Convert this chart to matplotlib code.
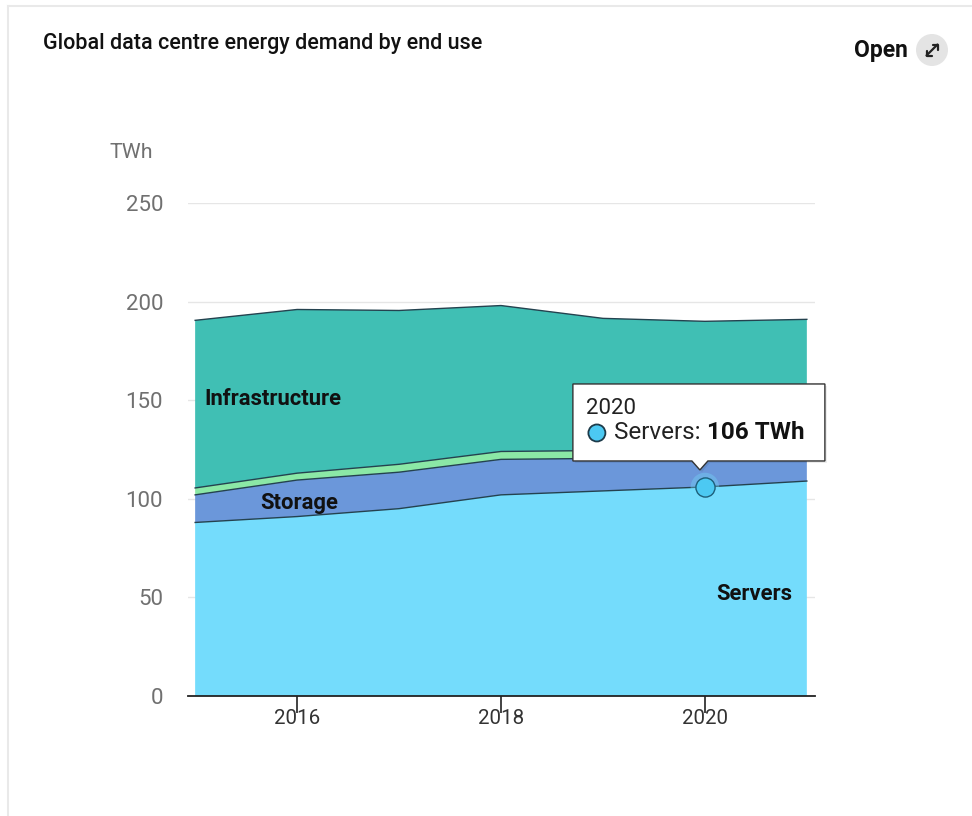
import matplotlib
matplotlib.use("Agg")
import matplotlib.pyplot as plt
from matplotlib.patches import Polygon, Ellipse
from matplotlib.lines import Line2D

# Global data centre energy demand by end use (TWh)
years = [2015, 2016, 2017, 2018, 2019, 2020, 2021]
servers = [88, 91, 95, 102, 104, 106, 109]
storage = [14, 18.5, 18.5, 18, 16.5, 15, 13]
network = [3.5, 3.5, 4, 4, 4, 4, 4]
infrastructure = [85, 83, 78, 74, 67, 65, 65]

series_names = ["Servers", "Storage", "Network", "Infrastructure"]
series_colors = ["#74dcfc", "#6b97da", "#8be8a6", "#40bfb4"]
yticks = [0, 50, 100, 150, 200, 250]
xticks = [2016, 2018, 2020]

tooltip_year = 2020
tooltip_series = "Servers"

W, H = 972, 816
plt.rcParams["font.family"] = ["Roboto", "DejaVu Sans"]
fig = plt.figure(figsize=(W / 100, H / 100), dpi=100)


def fx(px):
    return px / W


def fy(py):
    return 1 - py / H


def disc(cx, cy, r, **kw):
    """Round disc in figure coordinates, given in pixels."""
    return Ellipse((fx(cx), fy(cy)), 2 * r / W, 2 * r / H,
                   transform=fig.transFigure, **kw)


def seg(pts, **kw):
    xs = [fx(p[0]) for p in pts]
    ys = [fy(p[1]) for p in pts]
    fig.add_artist(Line2D(xs, ys, transform=fig.transFigure, **kw))


# card frame
seg([(8, 6), (W, 6)], color="#e9e9e9", lw=1.5)
seg([(8, 6), (8, H)], color="#e9e9e9", lw=1.5)

fig.text(fx(43), fy(43), "Global data centre energy demand by end use",
         fontsize=15.5, fontweight="medium", color="#111111", va="center", ha="left")

# "Open" button with expand icon
fig.text(fx(908), fy(50), "Open", fontsize=16.5, fontweight="bold", color="#111111",
         va="center", ha="right")
fig.add_artist(disc(932, 50, 16, facecolor="#e4e4e4", edgecolor="none", zorder=1))
icon = dict(color="#222222", lw=1.6, solid_capstyle="round", zorder=2)
seg([(926.5, 55.5), (937.5, 44.5)], **icon)
seg([(932.5, 44.5), (937.5, 44.5), (937.5, 49.5)], **icon)
seg([(926.5, 50.5), (926.5, 55.5), (931.5, 55.5)], **icon)

# plot area
left, right = 188, 815
top, bottom = 203, 696
ax = fig.add_axes([fx(left), fy(bottom), (right - left) / W, (bottom - top) / H])
ax.set_xlim(2014.93, 2021.08)
ax.set_ylim(0, 250)

ax.stackplot(years, servers, storage, network, infrastructure,
             colors=series_colors, labels=series_names, zorder=2)

# thin outlines on top of each layer
cum = [0] * len(years)
for vals in (servers, storage, network, infrastructure):
    cum = [c + v for c, v in zip(cum, vals)]
    ax.plot(years, cum, color="#24424f", lw=1.0, zorder=3)

for y in yticks[1:]:
    ax.axhline(y, color="#e6e6e6", lw=1.0, zorder=1)

for s in ("top", "right", "left"):
    ax.spines[s].set_visible(False)
ax.spines["bottom"].set_color("#222222")
ax.spines["bottom"].set_linewidth(1.3)
ax.spines["bottom"].set_zorder(4)

ax.set_yticks(yticks)
ax.set_yticklabels([str(v) for v in yticks])
ax.tick_params(axis="y", length=0, pad=18, labelsize=16, labelcolor="#707070")
ax.set_xticks(xticks)
ax.set_xticklabels([str(v) for v in xticks])
ax.tick_params(axis="x", length=12, width=1.2, color="#222222", direction="out",
               pad=-3, labelsize=14.8, labelcolor="#333333")
for lab in ax.get_xticklabels():
    lab.set_zorder(5)

fig.text(fx(131), fy(152), "TWh", fontsize=15.4, color="#707070", ha="center", va="center")

# area labels
ax.text(2015.09, 150.5, "Infrastructure", fontsize=15.8, fontweight="bold",
        color="#111111", va="center", ha="left", zorder=5)
ax.text(2015.64, 98, "Storage", fontsize=15.8, fontweight="bold",
        color="#111111", va="center", ha="left", zorder=5)
ax.text(2020.86, 51.5, "Servers", fontsize=15.8, fontweight="bold",
        color="#111111", va="center", ha="right", zorder=5)

# hovered point and tooltip
ti = years.index(tooltip_year)
tv = servers[ti]
ax.scatter([tooltip_year], [tv], s=420, color="#74dcfc", alpha=0.35, zorder=5,
           edgecolors="none")
ax.scatter([tooltip_year], [tv], s=190, color="#4cc9f2", edgecolors="#1d5f7a",
           linewidths=1.0, zorder=6)

fig.canvas.draw()
px, py = ax.transData.transform((tooltip_year, tv))
py = H - py  # pixel from top


def P(dx, dy):
    return (fx(px + dx), fy(py + dy))


box = [P(-132, -103), P(120, -103), P(120, -26), P(3, -26), P(-5, -17),
       P(-13, -26), P(-132, -26)]
fig.add_artist(Polygon([(a + 2 / W, b - 2 / H) for a, b in box], closed=True,
                       transform=fig.transFigure, facecolor="#000000", alpha=0.08,
                       edgecolor="none", zorder=9))
fig.add_artist(Polygon(box, closed=True, transform=fig.transFigure,
                       facecolor="white", edgecolor="#333333", lw=1.0, zorder=10))
fig.text(*P(-119, -78), str(tooltip_year), fontsize=16, color="#222222",
         va="center", ha="left", zorder=11)
fig.add_artist(disc(px - 108, py - 54, 8.5, facecolor="#4cc9f2",
                    edgecolor="#1d3b4a", lw=1.3, zorder=11))
t1 = fig.text(*P(-91, -54), f"{tooltip_series}: ", fontsize=17.5, color="#222222",
              va="center", ha="left", zorder=11)
fig.canvas.draw()
bb = t1.get_window_extent()
fig.text(bb.x1 / W, bb.y0 / H, f"{tv} TWh", fontsize=17.5, fontweight="bold",
         color="#111111", va="bottom", ha="left", zorder=11)

fig.savefig("out.png", dpi=100)
